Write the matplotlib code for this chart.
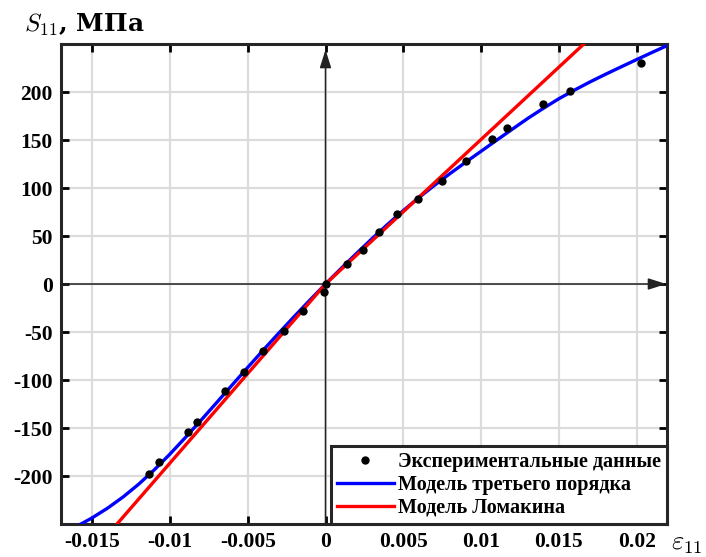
import numpy as np
import matplotlib
matplotlib.use("Agg")
import matplotlib.pyplot as plt

plt.rcParams['mathtext.fontset'] = 'cm'
plt.rcParams['axes.unicode_minus'] = False

# experimental points: strain / stress, MPa
eps_exp = [-0.01134, -0.01070, -0.00886, -0.00826, -0.00646, -0.00522, -0.00400,
           -0.00269, -0.00143, -0.00010, 0.0, 0.00136, 0.00239, 0.00346, 0.00462,
           0.00597, 0.00747, 0.00901, 0.01068, 0.01166, 0.01400, 0.01571, 0.02026]
sig_exp = [-197.5, -185, -154.5, -144, -111.5, -92, -70,
           -49, -28, -8, 0, 21, 35, 54, 73,
           88.5, 107.5, 128, 151, 163, 187, 201, 230]

# third order model, sampled every 0.001
eps_cubic = [-0.016, -0.015, -0.014, -0.013, -0.012, -0.011, -0.010, -0.009,
             -0.008, -0.007, -0.006, -0.005, -0.004, -0.003, -0.002, -0.001,
             0.0, 0.001, 0.002, 0.003, 0.004, 0.005, 0.006, 0.007, 0.008,
             0.009, 0.010, 0.011, 0.012, 0.013, 0.014, 0.015, 0.016, 0.017,
             0.018, 0.019, 0.020, 0.021, 0.022]
sig_cubic = [-252.5, -243.6, -233.4, -221.7, -208.4, -193.5, -177.2, -159.8,
             -141.9, -123.6, -105.2, -86.9, -68.8, -51.1, -33.7, -16.7,
             0.0, 16.2, 32.0, 47.4, 62.3, 76.5, 90.0, 102.8, 115.0,
             126.8, 138.3, 149.8, 161.2, 172.5, 183.0, 193.0, 202.0, 210.5,
             218.5, 226.2, 233.8, 241.3, 248.7]

# Lomakin model (different moduli in tension and compression)
eps_lom = [-0.0134, 0.0, 0.0166]
sig_lom = [-250, 0, 250]

xticks = [-0.015, -0.01, -0.005, 0, 0.005, 0.01, 0.015, 0.02]
xtick_labels = ['-0.015', '-0.01', '-0.005', '0', '0.005', '0.01', '0.015', '0.02']
yticks = [-200, -150, -100, -50, 0, 50, 100, 150, 200]

fig = plt.figure(figsize=(7.06, 5.57), dpi=100)
ax = fig.add_axes([0.0864, 0.0592, 0.8584, 0.8618])
ax.set_xlim(-0.0170, 0.02195)
ax.set_ylim(-250, 250)

ax.grid(True, color='#dcdcdc', linewidth=1.6)
ax.set_axisbelow(True)

# coordinate axes with arrows
arrow = dict(arrowstyle='-|>,head_length=1.1,head_width=0.35',
             color='#222222', lw=1.1, shrinkA=0, shrinkB=0)
ax.annotate('', xy=(0, 244), xytext=(0, -250), arrowprops=arrow)
ax.annotate('', xy=(0.0219, 0), xytext=(-0.0170, 0), arrowprops=arrow)

ax.plot(eps_exp, sig_exp, 'o', color='black', markersize=5, zorder=5,
        label='Экспериментальные данные')
ax.plot(eps_cubic, sig_cubic, '-', color='#0000ff', lw=2.4, zorder=3,
        label='Модель третьего порядка')
ax.plot(eps_lom, sig_lom, '-', color='#ff0000', lw=2.4, zorder=4,
        label='Модель Ломакина')

ax.set_xticks(xticks)
ax.set_xticklabels(xtick_labels)
ax.set_yticks(yticks)
ax.tick_params(direction='in', length=6, width=2, top=True, right=True,
               labelsize=15.5, pad=6)
for lab in ax.get_xticklabels() + ax.get_yticklabels():
    lab.set_fontfamily('Liberation Serif')
    lab.set_fontweight('bold')
for sp in ax.spines.values():
    sp.set_linewidth(2.2)
    sp.set_color('#262626')

leg = ax.legend(loc='lower right', borderaxespad=0, fancybox=False,
                handlelength=2.85, handletextpad=0.2, borderpad=0.3,
                labelspacing=0.15, framealpha=1,
                prop={'family': 'Liberation Serif', 'weight': 'bold', 'size': 14.5})
leg.get_frame().set_edgecolor('#262626')
leg.get_frame().set_linewidth(2.2)

fig.text(0.034, 0.943, r'$S_{11}$' + ', МПа', fontsize=18,
         family='DejaVu Serif', fontweight='bold', va='baseline')
fig.text(0.950, 0.026, r'$\varepsilon_{11}$', fontsize=19, va='center')

fig.savefig('out.png', dpi=100)
